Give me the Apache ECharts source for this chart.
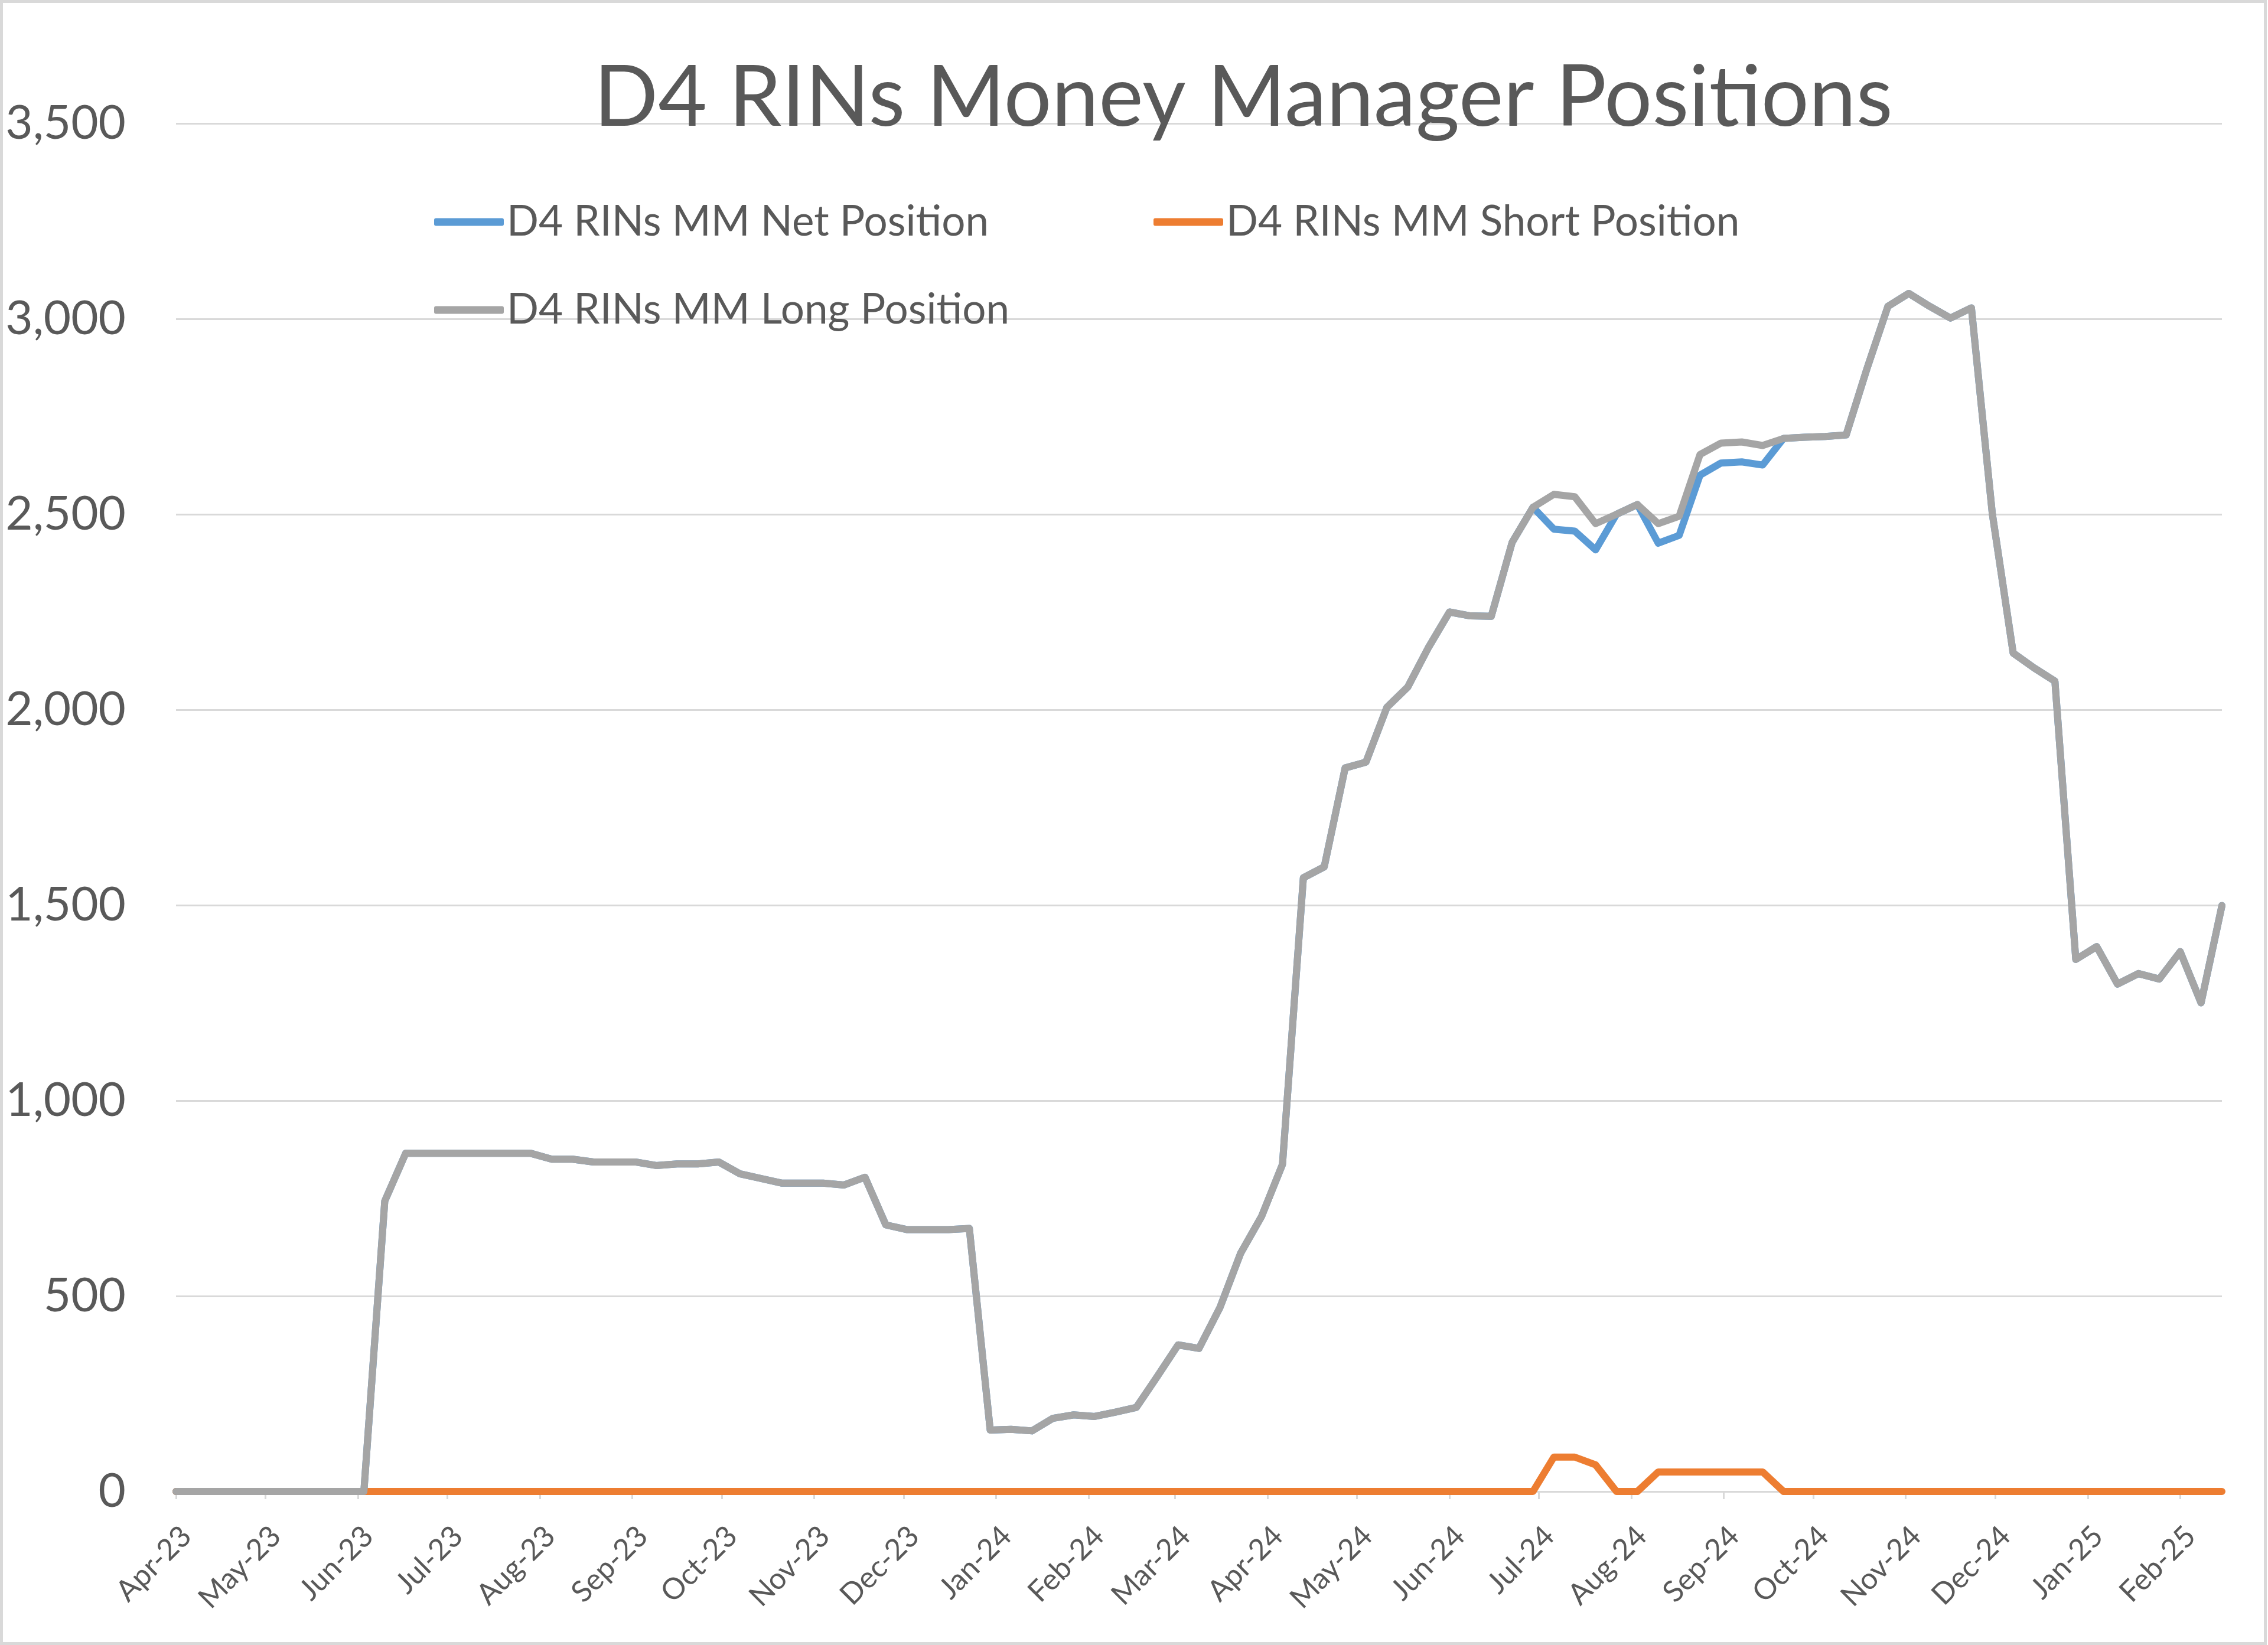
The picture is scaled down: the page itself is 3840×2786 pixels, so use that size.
<!DOCTYPE html>
<html>
<head>
<meta charset="utf-8">
<script src="https://cdn.jsdelivr.net/npm/echarts@6/dist/echarts.min.js"></script>
<style>
  html, body { margin: 0; padding: 0; background: #ffffff; }
  #chart { width: 3840px; height: 2786px; }
</style>
</head>
<body>
<div id="chart"></div>
<script>
// Weekly report dates (Tuesdays)
var weekDates = [
  "2023-04-04","2023-04-11","2023-04-18","2023-04-25","2023-05-02","2023-05-09","2023-05-16","2023-05-23","2023-05-30",
  "2023-06-06","2023-06-13","2023-06-20","2023-06-27","2023-07-04","2023-07-11","2023-07-18","2023-07-25",
  "2023-08-01","2023-08-08","2023-08-15","2023-08-22","2023-08-29","2023-09-05","2023-09-12","2023-09-19","2023-09-26",
  "2023-10-03","2023-10-10","2023-10-17","2023-10-24","2023-10-31","2023-11-07","2023-11-14","2023-11-21","2023-11-28",
  "2023-12-05","2023-12-12","2023-12-19","2023-12-26",
  "2024-01-02","2024-01-09","2024-01-16","2024-01-23","2024-01-30","2024-02-06","2024-02-13","2024-02-20","2024-02-27",
  "2024-03-05","2024-03-12","2024-03-19","2024-03-26","2024-04-02","2024-04-09","2024-04-16","2024-04-23","2024-04-30",
  "2024-05-07","2024-05-14","2024-05-21","2024-05-28","2024-06-04","2024-06-11","2024-06-18","2024-06-25",
  "2024-07-02","2024-07-09","2024-07-16","2024-07-23","2024-07-30","2024-08-06","2024-08-13","2024-08-20","2024-08-27",
  "2024-09-03","2024-09-10","2024-09-17","2024-09-24","2024-10-01","2024-10-08","2024-10-15","2024-10-22","2024-10-29",
  "2024-11-05","2024-11-12","2024-11-19","2024-11-26","2024-12-03","2024-12-10","2024-12-17","2024-12-24","2024-12-31",
  "2025-01-07","2025-01-14","2025-01-21","2025-01-28","2025-02-04","2025-02-11","2025-02-18"
];

var netPosition = [
  0,0,0,0,0,0,0,0,0,0,
  743,865,865,865,865,865,865,865,850,850,
  843,843,843,834,838,838,843,813,801,789,
  789,789,784,804,682,670,670,670,673,157,
  159,155,187,196,192,203,215,294,375,366,
  470,610,704,837,1570,1598,1851,1866,2006,2058,
  2160,2250,2240,2239,2428,2518,2462,2457,2409,2500,
  2525,2426,2446,2600,2631,2634,2626,2694,2697,2699,
  2703,2873,3032,3065,3032,3002,3028,2502,2145,2107,
  2073,1361,1394,1298,1325,1311,1381,1250,1499
];

var shortPosition = [
  0,0,0,0,0,0,0,0,0,0,
  0,0,0,0,0,0,0,0,0,0,
  0,0,0,0,0,0,0,0,0,0,
  0,0,0,0,0,0,0,0,0,0,
  0,0,0,0,0,0,0,0,0,0,
  0,0,0,0,0,0,0,0,0,0,
  0,0,0,0,0,0,88,88,68,0,
  0,50,50,50,50,50,50,0,0,0,
  0,0,0,0,0,0,0,0,0,0,
  0,0,0,0,0,0,0,0,0
];

var longPosition = [
  0,0,0,0,0,0,0,0,0,0,
  743,865,865,865,865,865,865,865,850,850,
  843,843,843,834,838,838,843,813,801,789,
  789,789,784,804,682,670,670,670,673,157,
  159,155,187,196,192,203,215,294,375,366,
  470,610,704,837,1570,1598,1851,1866,2006,2058,
  2160,2250,2240,2239,2428,2518,2551,2545,2476,2500,
  2525,2476,2495,2653,2682,2685,2676,2694,2697,2699,
  2703,2873,3032,3065,3032,3002,3028,2502,2145,2107,
  2073,1361,1394,1298,1325,1311,1381,1250,1499
];

var tickDates = [
  "2023-04-04","2023-05-04","2023-06-04","2023-07-04","2023-08-04","2023-09-04","2023-10-04","2023-11-04","2023-12-04",
  "2024-01-04","2024-02-04","2024-03-04","2024-04-04","2024-05-04","2024-06-04","2024-07-04","2024-08-04","2024-09-04",
  "2024-10-04","2024-11-04","2024-12-04","2025-01-04","2025-02-04"
];
var tickLabels = [
  "Apr-23","May-23","Jun-23","Jul-23","Aug-23","Sep-23","Oct-23","Nov-23","Dec-23",
  "Jan-24","Feb-24","Mar-24","Apr-24","May-24","Jun-24","Jul-24","Aug-24","Sep-24",
  "Oct-24","Nov-24","Dec-24","Jan-25","Feb-25"
];
var yTicks = [0, 500, 1000, 1500, 2000, 2500, 3000, 3500];

var seriesNames = ["D4 RINs MM Net Position", "D4 RINs MM Short Position", "D4 RINs MM Long Position"];
var titleText = "D4 RINs Money Manager Positions";

function toTs(s) {
  var p = s.split("-");
  return Date.UTC(+p[0], +p[1] - 1, +p[2]);
}
var xs = weekDates.map(toTs);
var tickTs = tickDates.map(toTs);
function pairs(vals) { return vals.map(function (v, i) { return [xs[i], v]; }); }

var FONT = "Lato";
var TXT = "#595959";
var GRID = "#d9d9d9";

var chart = echarts.init(document.getElementById("chart"), null, { renderer: "canvas" });

function legendAt(name, left, top) {
  return {
    data: [name],
    left: left, top: top,
    padding: 0,
    itemWidth: 118, itemHeight: 13,
    icon: "roundRect",
    selectedMode: false,
    textStyle: { fontFamily: FONT, fontSize: 71, color: TXT, lineHeight: 80 }
  };
}

var option = {
  animation: false,
  backgroundColor: "#ffffff",
  title: {
    text: titleText,
    left: 2105, top: 95,
    textAlign: "center",
    padding: 0,
    textStyle: { fontFamily: FONT, fontSize: 143, fontWeight: "normal", color: TXT, lineHeight: 143 }
  },
  legend: [
    legendAt(seriesNames[0], 735, 336),
    legendAt(seriesNames[1], 1953, 336),
    legendAt(seriesNames[2], 735, 485)
  ],
  grid: { left: 298, right: 78, top: 209, bottom: 260, containLabel: false },
  xAxis: {
    type: "value",
    min: xs[0], max: xs[xs.length - 1],
    axisLine: { show: true, lineStyle: { color: GRID, width: 3 } },
    axisTick: { show: true, customValues: tickTs, length: 13, lineStyle: { color: GRID, width: 3 } },
    splitLine: { show: false },
    axisLabel: {
      customValues: tickTs,
      rotate: 45,
      margin: 50,
      align: "right",
      verticalAlign: "top",
      fontFamily: FONT, fontSize: 50, color: TXT,
      formatter: function (v) {
        var idx = tickTs.indexOf(v);
        return idx >= 0 ? tickLabels[idx] : "";
      }
    }
  },
  yAxis: {
    type: "value",
    min: yTicks[0], max: yTicks[yTicks.length - 1], interval: 500,
    axisLine: { show: false },
    axisTick: { show: false },
    splitLine: { show: true, lineStyle: { color: GRID, width: 3 } },
    axisLabel: {
      margin: 85,
      fontFamily: FONT, fontSize: 80, color: TXT,
      formatter: function (v) { return v.toLocaleString("en-US"); }
    }
  },
  series: [
    { name: seriesNames[0], type: "line", data: pairs(netPosition), showSymbol: false, symbol: "none",
      color: "#5B9BD5", lineStyle: { color: "#5B9BD5", width: 12, join: "round", cap: "round" } },
    { name: seriesNames[1], type: "line", data: pairs(shortPosition), showSymbol: false, symbol: "none",
      color: "#ED7D31", lineStyle: { color: "#ED7D31", width: 12, join: "round", cap: "round" } },
    { name: seriesNames[2], type: "line", data: pairs(longPosition), showSymbol: false, symbol: "none",
      color: "#A5A5A5", lineStyle: { color: "#A5A5A5", width: 12, join: "round", cap: "round" } }
  ],
  graphic: [
    { type: "rect", silent: true, z: 100,
      shape: { x: 2.5, y: 2.5, width: 3833, height: 2781 },
      style: { fill: "none", stroke: GRID, lineWidth: 5 } }
  ]
};
chart.setOption(option);
</script>
</body>
</html>
